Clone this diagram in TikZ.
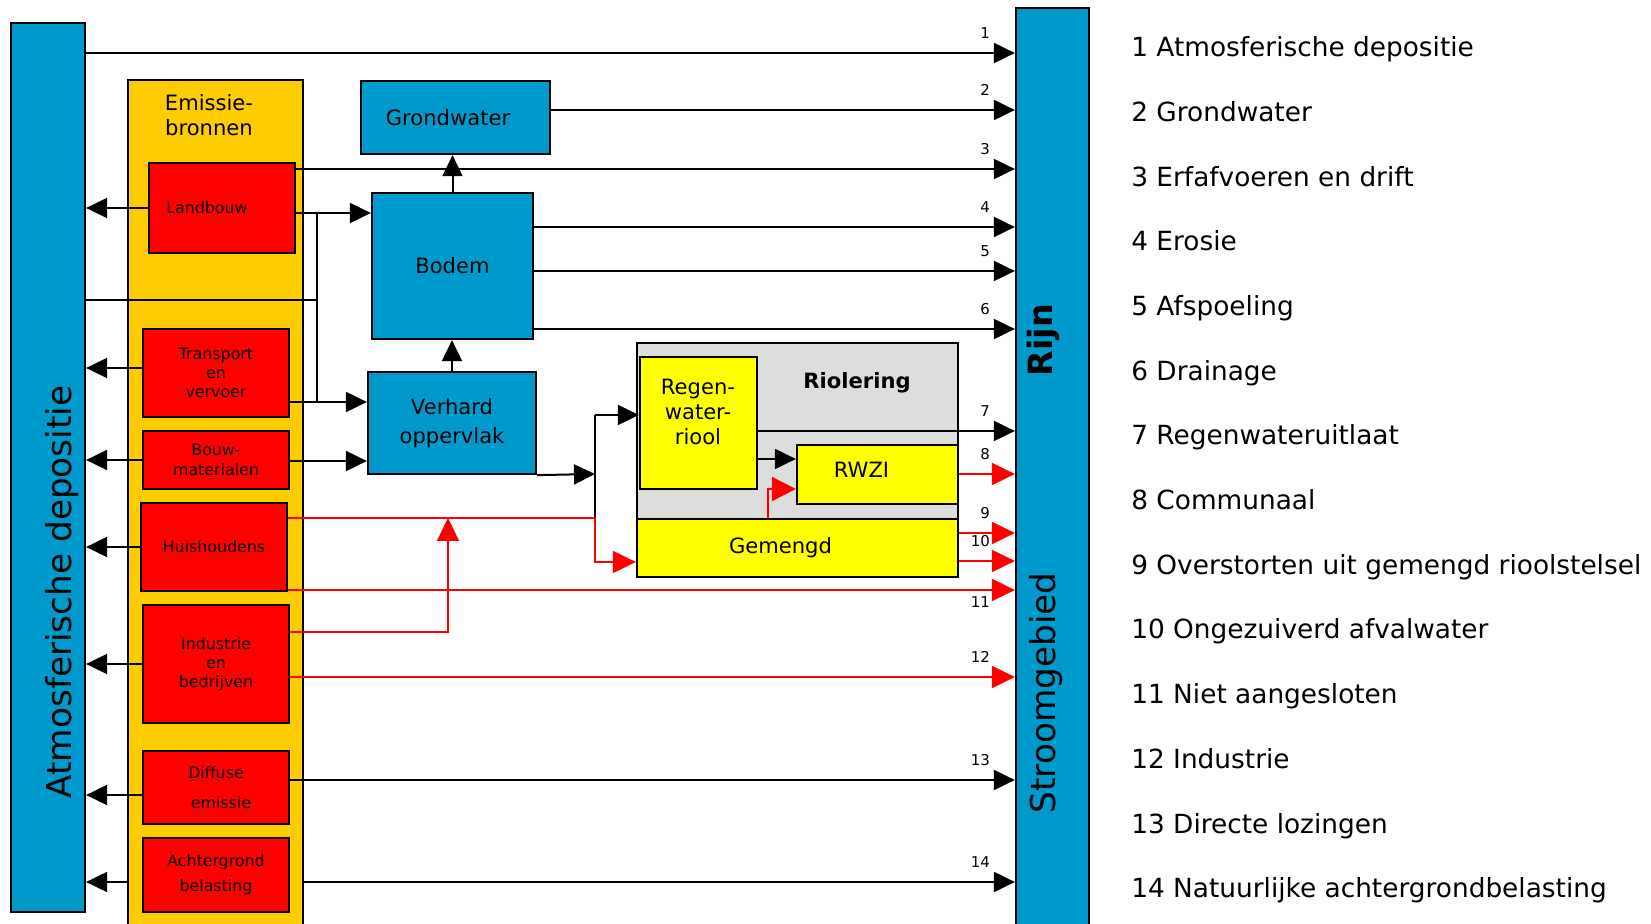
\documentclass[tikz,border=0pt]{standalone}
\usepackage{fontspec}
\setmainfont{DejaVu Sans}
\usetikzlibrary{arrows.meta}
\definecolor{rnblue}{RGB}{0,153,204}
\definecolor{rnorange}{RGB}{255,204,0}
\definecolor{rnred}{RGB}{255,0,0}
\definecolor{rnyel}{RGB}{255,255,0}
\definecolor{rngrey}{RGB}{221,221,221}
\tikzset{
  rnbox/.style={
    draw=black, line width=0.45mm, align=center, inner sep=1pt,
    font=\fontsize{12}{14.2}\selectfont
  },
  bar/.style={rnbox, fill=rnblue},
  comp/.style={rnbox, fill=rnblue},
  src/.style={rnbox, fill=rnred, font=\fontsize{9}{11}\selectfont},
  sew/.style={rnbox, fill=rnyel},
  grp/.style={rnbox, fill=rngrey},
  arr/.style={-{Triangle[length=4.2mm,width=4mm]}, draw=black, line width=0.4mm},
  rarr/.style={arr, draw=rnred, -{Triangle[length=4.6mm,width=4.4mm]}},
  flow/.style={draw=black, line width=0.4mm},
  num/.style={
    font=\fontsize{8.5}{10}\selectfont, inner sep=0pt,
    anchor=south east, xshift=-4.8mm, yshift=2.6mm
  },
  numb/.style={
    font=\fontsize{8.5}{10}\selectfont, inner sep=0pt,
    anchor=north east, xshift=-4.8mm, yshift=-1.2mm
  },
  txt/.style={align=center, inner sep=0pt, font=\fontsize{12}{14.2}\selectfont},
  vlab/.style={rotate=90, anchor=base, inner sep=0pt, font=\fontsize{19.5}{22}\selectfont},
  leg/.style={anchor=base west, inner sep=0pt, font=\fontsize{15}{18}\selectfont}
}

\begin{document}
\begin{tikzpicture}[x=0.2mm, y=-0.2mm]
  \useasboundingbox (0,0) rectangle (1651,924);
  \clip (0,0) rectangle (1651,924);

  \node[bar, minimum width=14.8mm, minimum height=177.8mm] (atm) at (48,467.5) {};
  \node[rnbox, fill=rnorange, minimum width=35mm, minimum height=170mm] (emis) at (215.5,505) {};
  \node[bar, minimum width=14.6mm, minimum height=184.4mm] (rijn) at (1052.5,469) {};

  \node[comp, minimum width=37.8mm, minimum height=14.6mm] (gw) at (455.5,117.5) {Grondwater\hspace*{3mm}};
  \node[comp, minimum width=32.2mm, minimum height=29.2mm] (bod) at (452.5,266) {Bodem};
  \node[comp, minimum width=33.6mm, minimum height=20.4mm, font=\fontsize{12}{16.4}\selectfont]
    (vo) at (452,423) {Verhard\\oppervlak};

  \node[src, minimum width=29.2mm, minimum height=18mm] (lb) at (222,208) {Landbouw\hspace*{6mm}};
  \node[src, minimum width=29.2mm, minimum height=17.6mm] (tv) at (216,373) {Transport\\en\\vervoer};
  \node[src, minimum width=29.2mm, minimum height=11.6mm] (bm) at (216,460) {Bouw-\\materialen};
  \node[src, minimum width=29.2mm, minimum height=17.6mm] (hh) at (214,547) {Huishoudens};
  \node[src, minimum width=29.2mm, minimum height=23.6mm] (ib) at (216,664) {Industrie\\en\\bedrijven};
  \node[src, minimum width=29.2mm, minimum height=14.6mm, font=\fontsize{9}{17}\selectfont]
    (de) at (216,787.5) {Diffuse\\\ \ emissie};
  \node[src, minimum width=29.2mm, minimum height=14.8mm, font=\fontsize{9}{14.2}\selectfont]
    (ab) at (216,875) {Achtergrond\\belasting};

  \node[grp, minimum width=64.2mm, minimum height=46.8mm] (rio) at (797.5,460) {};
  \node[sew, minimum width=23.4mm, minimum height=26.4mm] (rw) at (698.5,423) {};
  \node[sew, minimum width=32.2mm, minimum height=11.8mm, text depth=2mm]
    (rwzi) at (877.5,474.5) {RWZI\hspace*{6.4mm}};
  \node[sew, minimum width=64.2mm, minimum height=11.6mm] (gm) at (797.5,548) {Gemengd\hspace*{6.8mm}};

  \node[txt] (emistxt) at (209,115.5) {Emissie-\\bronnen};
  \node[txt] (rwtxt) at (698,412) {Regen-\\water-\\riool};
  \node[txt, font=\bfseries\fontsize{12}{14.2}\selectfont] (riotxt) at (857,383) {Riolering};
  \node[vlab] (atmtxt) at (71,592) {Atmosferische depositie};
  \node[vlab, font=\bfseries\fontsize{19}{22}\selectfont] (rijntxt) at (1052,340) {Rijn};
  \node[vlab] (sgtxt) at (1055,693) {Stroomgebied};

  \draw[arr] (atm.east |- 0,53) -- (rijn.west |- 0,53) node[num] {1};
  \draw[arr] (gw.east |- 0,110) -- (rijn.west |- 0,110) node[num] {2};
  \draw[arr] (lb.east |- 0,169) -- (rijn.west |- 0,169) node[num] {3};
  \draw[arr] (bod.east |- 0,227) -- (rijn.west |- 0,227) node[num] {4};
  \draw[arr] (bod.east |- 0,271) -- (rijn.west |- 0,271) node[num] {5};
  \draw[arr] (bod.east |- 0,329) -- (rijn.west |- 0,329) node[num] {6};
  \draw[arr] (rw.east |- 0,431) -- (rijn.west |- 0,431) node[num] {7};
  \draw[rarr] (rwzi.east |- 0,474) -- (rijn.west |- 0,474) node[num] {8};
  \draw[rarr] (gm.east |- 0,533) -- (rijn.west |- 0,533) node[num] {9};
  \draw[rarr] (gm.east |- 0,561) -- (rijn.west |- 0,561) node[num] {10};
  \draw[rarr] (hh.east |- 0,590) -- (rijn.west |- 0,590) node[numb] {11};
  \draw[rarr] (ib.east |- 0,677) -- (rijn.west |- 0,677) node[num] {12};
  \draw[arr] (de.east |- 0,780) -- (rijn.west |- 0,780) node[num] {13};
  \draw[arr] (emis.east |- 0,882) -- (rijn.west |- 0,882) node[num] {14};

  \draw[arr] (lb.west) -- (atm.east |- lb.west);
  \draw[arr] (tv.west |- 0,368) -- (atm.east |- 0,368);
  \draw[arr] (bm.west) -- (atm.east |- bm.west);
  \draw[arr] (hh.west) -- (atm.east |- hh.west);
  \draw[arr] (ib.west) -- (atm.east |- ib.west);
  \draw[arr] (de.west |- 0,795) -- (atm.east |- 0,795);
  \draw[arr] (emis.west |- 0,882) -- (atm.east |- 0,882);

  \coordinate (ja) at (317,213);
  \coordinate (jb) at (317,402);
  \draw[arr] (lb.east |- ja) -- (bod.west |- ja);
  \draw[arr] (tv.east |- jb) -- (vo.west |- jb);
  \draw[arr] (bm.east |- 0,461) -- (vo.west |- 0,461);
  \draw[flow] (ja) -- (jb);
  \draw[flow] (atm.east |- 0,300) -- (jb |- 0,300);
  \draw[arr] (bod.north) -- (bod.north |- gw.south);
  \draw[arr] (vo.north) -- (vo.north |- bod.south);

  \coordinate (jt) at (595,415);
  \coordinate (jr) at (595,474);
  \coordinate (jm) at (595,518);
  \coordinate (ju) at (448,518);
  \draw[arr] (vo.south east) -- (jr);
  \draw[flow] (jt) -- (jm);
  \draw[arr] (jt) -- (rw.west |- jt);
  \draw[rarr] (hh.east |- jm) -- (jm) |- (gm.west |- 0,562);
  \draw[rarr] (ib.east |- 0,632) -| (ju);
  \draw[arr] (rw.east |- 0,459) -- (rwzi.west |- 0,459);
  \draw[rarr, -{Triangle[length=4.8mm,width=4.8mm]}] (gm.north -| 768,0) |- (rwzi.west |- 0,489);

  \foreach \txt [count=\i] in {Atmosferische depositie, Grondwater, Erfafvoeren en drift,
      Erosie, Afspoeling, Drainage, Regenwateruitlaat, Communaal,
      Overstorten uit gemengd rioolstelsel, Ongezuiverd afvalwater, Niet aangesloten,
      Industrie, Directe lozingen, Natuurlijke achtergrondbelasting}
    \node[leg] (leg\i) at (1131,{56.7+(\i-1)*64.7}) {\i\ \txt};
\end{tikzpicture}
\end{document}
